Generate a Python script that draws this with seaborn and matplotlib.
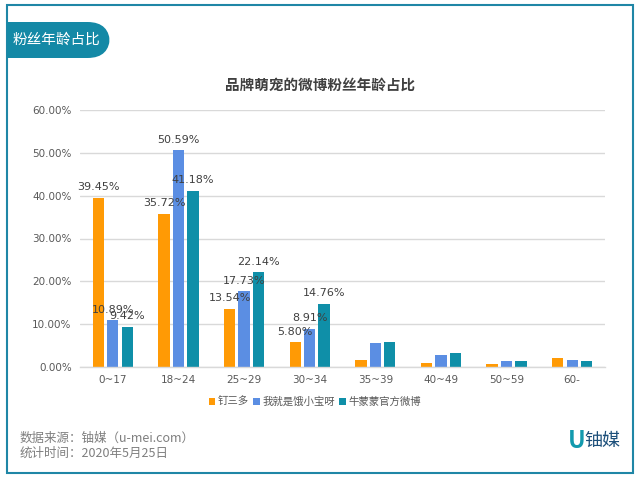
import matplotlib
matplotlib.use("Agg")
import matplotlib.pyplot as plt
import seaborn as sns
import pandas as pd
from matplotlib.patches import FancyBboxPatch, Rectangle

categories = ["0~17", "18~24", "25~29", "30~34", "35~39", "40~49", "50~59", "60-"]
series_names = ["钉三多", "我就是饿小宝呀", "牛蒙蒙官方微博"]
s1 = [39.45, 35.72, 13.54, 5.80, 1.6, 1.0, 0.6, 2.1]
s2 = [10.89, 50.59, 17.73, 8.91, 5.5, 2.8, 1.5, 1.7]
s3 = [9.42, 41.18, 22.14, 14.76, 5.8, 3.2, 1.5, 1.5]
labeled_count = 4
yticks = [0, 10, 20, 30, 40, 50, 60]
colors = ["#FF9A05", "#5B8EE3", "#0F8FA8"]

rows = []
for name, vals in zip(series_names, [s1, s2, s3]):
    for c, v in zip(categories, vals):
        rows.append({"age": c, "series": name, "value": v})
df = pd.DataFrame(rows)

sns.set_theme(style="white")
plt.rcParams["font.family"] = ["Noto Sans CJK SC", "DejaVu Sans"]

fig = plt.figure(figsize=(6.4, 4.8), dpi=100)
fig.patch.set_facecolor("white")

# outer border
fig.patches.append(Rectangle((7/640, 1 - 473/480), 626/640, 468/480, transform=fig.transFigure,
                             fill=False, edgecolor="#1F86A6", linewidth=1.5, zorder=0))
# header tab
fig.patches.append(FancyBboxPatch((20/640, 1 - 58/480), 90/640, 36/480, transform=fig.transFigure,
                                  boxstyle="round,pad=0,rounding_size=0.035", facecolor="#1489A6",
                                  edgecolor="none", mutation_aspect=640/480, zorder=1))
fig.patches.append(Rectangle((7/640, 1 - 58/480), 40/640, 36/480, transform=fig.transFigure,
                             facecolor="#1489A6", edgecolor="none", zorder=1))
fig.text(13/640, 1 - 40/480, "粉丝年龄占比", color="white", fontsize=10.5, va="center", ha="left")

fig.text(320/640, 1 - 85/480, "品牌萌宠的微博粉丝年龄占比", fontsize=10.5, fontweight="bold",
         color="#404040", ha="center", va="center")

ax = fig.add_axes([80/640, 1 - 367/480, 525/640, 257/480])
sns.barplot(data=df, x="age", y="value", hue="series", palette=colors, ax=ax,
            width=0.66, gap=0.22, saturation=1, order=categories, hue_order=series_names,
            linewidth=0)

for i, cont in enumerate(ax.containers):
    for j, bar in enumerate(cont):
        if j < labeled_count:
            h = bar.get_height()
            ax.annotate(f"{h:.2f}%", (bar.get_x() + bar.get_width()/2, h), xytext=(0, 4),
                        textcoords="offset points", ha="center", va="bottom",
                        fontsize=8, color="#404040", family=["DejaVu Sans"])

ax.set_ylim(0, 60)
ax.set_yticks(yticks)
ax.set_yticklabels([f"{t:.2f}%" for t in yticks], fontsize=7.5, color="#595959", family=["DejaVu Sans"])
ax.set_xticks(range(len(categories)))
ax.set_xticklabels(categories, fontsize=7.5, color="#595959", family=["DejaVu Sans"])
ax.tick_params(axis="both", length=0, pad=6)
ax.set_xlabel("")
ax.set_ylabel("")
ax.yaxis.grid(True, color="#D9D9D9", linewidth=1)
ax.set_axisbelow(True)
for s in ["top", "right", "left"]:
    ax.spines[s].set_visible(False)
ax.spines["bottom"].set_color("#D9D9D9")
ax.spines["bottom"].set_linewidth(1)

handles, labels = ax.get_legend_handles_labels()
ax.get_legend().remove()
leg = fig.legend(handles, labels, loc="center", bbox_to_anchor=(315/640, 1 - 402/480), ncol=3,
                 frameon=False, fontsize=7.5, handlelength=0.6, handleheight=0.6,
                 handletextpad=0.3, columnspacing=0.4)
for t in leg.get_texts():
    t.set_color("#595959")

fig.text(20/640, 1 - 438/480, "数据来源：铀媒（u-mei.com）", fontsize=9, color="#7F7F7F", va="center")
fig.text(20/640, 1 - 453/480, "统计时间：2020年5月25日", fontsize=9, color="#7F7F7F", va="center")
fig.text(568/640, 1 - 441/480, "U", fontsize=17, fontweight="bold", style="italic", color="#139AAE", va="center")
fig.text(584/640, 1 - 441/480, "铀媒", fontsize=13, color="#1C4F7A", va="center")

fig.savefig("out.png", dpi=100)
